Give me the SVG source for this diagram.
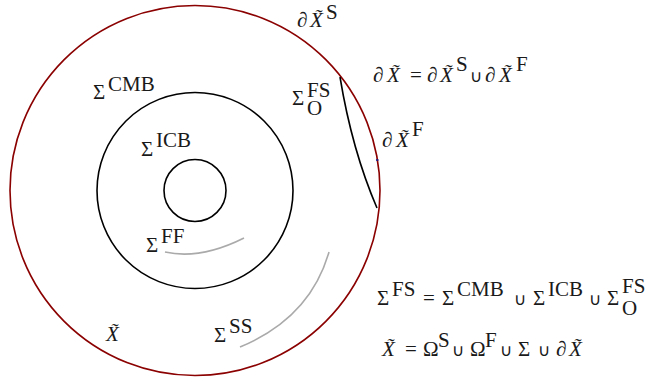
<svg xmlns="http://www.w3.org/2000/svg" width="656" height="380" viewBox="0 0 656 380">
<defs>
<style>
.i{font-style:italic}
.red{fill:none;stroke:#8b0000;stroke-width:1.6}
.blk{fill:none;stroke:#000;stroke-width:1.6}
.gry{fill:none;stroke:#aaa;stroke-width:1.6}
</style>
</defs>
<rect width="656" height="380" fill="#fff"/>
<g id="outer"><circle class="red" cx="195" cy="190.5" r="185"/></g>
<g id="cmb"><circle class="blk" cx="195" cy="190.5" r="98"/></g>
<g id="icb"><circle class="blk" cx="195" cy="190.5" r="31"/></g>
<g id="connectors">
<path id="fs" class="blk" d="M340,77 Q352,150 377,208"/>
<path id="ff" class="gry" d="M165,252 Q200,260 244,238"/>
<path id="ss" class="gry" d="M240,347 Q310,318 329,252"/>
<line id="mark" x1="376" y1="160" x2="378.5" y2="160" stroke="#1a1a8c" stroke-width="1.6"/>
</g>
<g id="labels" fill="#1a1a1a">
<text id="dxs" font-family="Liberation Serif" font-size="21"><tspan x="297" y="27">∂</tspan><tspan class="i" x="310" y="27">X̃</tspan><tspan x="326" y="19">S</tspan></text>
<text id="eq1" font-family="Liberation Serif" font-size="21"><tspan x="373" y="82">∂</tspan><tspan class="i" x="387" y="82">X̃</tspan><tspan x="410" y="82">=</tspan><tspan x="427" y="82">∂</tspan><tspan class="i" x="440" y="82">X̃</tspan><tspan x="456" y="71">S</tspan><tspan font-family="DejaVu Sans" font-size="17" x="470" y="82">∪</tspan><tspan x="485" y="82">∂</tspan><tspan class="i" x="499" y="82">X̃</tspan><tspan x="516" y="71">F</tspan></text>
<text id="dxf" font-family="Liberation Serif" font-size="21"><tspan x="382" y="147">∂</tspan><tspan class="i" x="396" y="147">X̃</tspan><tspan x="412" y="136">F</tspan></text>
<text id="scmb" font-family="Liberation Serif" font-size="21"><tspan x="93" y="99">Σ</tspan><tspan x="108" y="91">CMB</tspan></text>
<text id="sfso" font-family="Liberation Serif" font-size="21"><tspan x="292" y="105">Σ</tspan><tspan x="307" y="97">FS</tspan><tspan x="307" y="115">O</tspan></text>
<text id="sicb" font-family="Liberation Serif" font-size="21"><tspan x="141" y="156">Σ</tspan><tspan x="156" y="147">ICB</tspan></text>
<text id="sff" font-family="Liberation Serif" font-size="21"><tspan x="146" y="252">Σ</tspan><tspan x="161" y="243">FF</tspan></text>
<text id="xt" class="i" font-family="Liberation Serif" font-size="21" x="106" y="341">X̃</text>
<text id="sss" font-family="Liberation Serif" font-size="21"><tspan x="214" y="342">Σ</tspan><tspan x="229" y="333">SS</tspan></text>
<text id="eq2" font-family="Liberation Serif" font-size="21"><tspan x="377" y="305">Σ</tspan><tspan x="392" y="296">FS</tspan><tspan x="423" y="305">=</tspan><tspan x="442" y="305">Σ</tspan><tspan x="457" y="296">CMB</tspan><tspan font-family="DejaVu Sans" font-size="17" x="514" y="305">∪</tspan><tspan x="533" y="305">Σ</tspan><tspan x="548" y="296">ICB</tspan><tspan font-family="DejaVu Sans" font-size="17" x="589" y="305">∪</tspan><tspan x="607" y="305">Σ</tspan><tspan x="622" y="293">FS</tspan><tspan x="622" y="315">O</tspan></text>
<text id="eq3" font-family="Liberation Serif" font-size="21"><tspan class="i" x="382" y="356">X̃</tspan><tspan x="405" y="356">=</tspan><tspan x="423" y="356">Ω</tspan><tspan x="438" y="347">S</tspan><tspan font-family="DejaVu Sans" font-size="17" x="452" y="356">∪</tspan><tspan x="470" y="356">Ω</tspan><tspan x="485" y="347">F</tspan><tspan font-family="DejaVu Sans" font-size="17" x="500" y="356">∪</tspan><tspan x="518" y="356">Σ</tspan><tspan font-family="DejaVu Sans" font-size="17" x="538" y="356">∪</tspan><tspan x="556" y="356">∂</tspan><tspan class="i" x="569" y="356">X̃</tspan></text>
</g>
</svg>
